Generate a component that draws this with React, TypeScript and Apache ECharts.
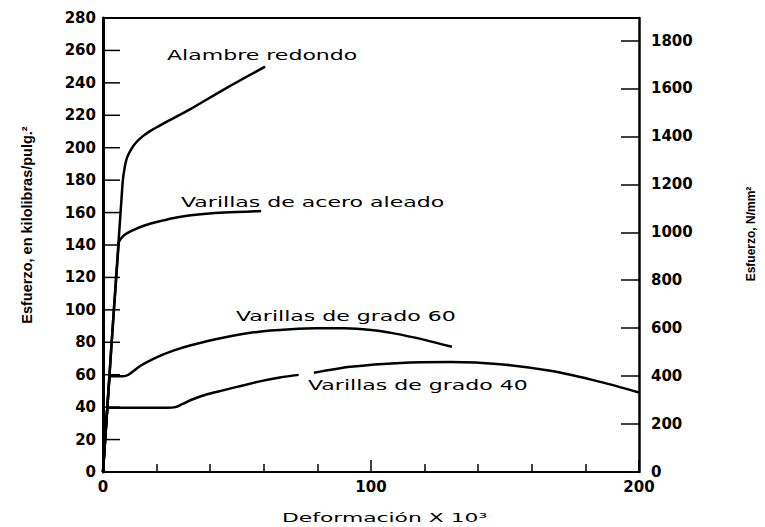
import React, { useEffect, useRef } from "react";
import * as echarts from "echarts";

// Deformation (x 10^3) vs stress (kips/in^2) for four kinds of steel reinforcement.
const wireRound: [number, number][] = [
  [0, 0], [7.3, 178], [8.1, 188], [9, 194], [10.5, 199], [12.5, 203.5],
  [15, 207.3], [18, 210.7], [21, 213.5], [26, 218], [32.8, 224], [45.2, 236], [60.5, 250],
];

const alloyBars: [number, number][] = [
  [0, 0], [5.85, 141], [6.7, 144], [8.5, 146.8], [11.7, 149.5], [15.5, 152],
  [20.4, 154.3], [26, 156.5], [32.8, 158.3], [45.2, 160], [59, 161],
];

const grade60Bars: [number, number][] = [
  [0, 0], [2.4, 58], [2.8, 59], [4, 59], [7.5, 59], [9.5, 60], [14, 65.5],
  [20.4, 71], [26.5, 75], [32.8, 78.2], [45.2, 83], [57.6, 86.4], [70, 88],
  [80, 88.6], [90, 88.6], [100, 87.6], [108.5, 85.5], [120, 81.5], [130.2, 77.2],
];

// the drawn grade-40 curve is broken where its label sits
const grade40Bars: (number | string)[][] = [
  [0, 0], [1.6, 38.5], [2, 39.6], [4, 39.6], [15, 39.6], [24, 39.6], [27, 40],
  [29.5, 41.8], [32.8, 44.4], [38, 47.5], [45.2, 50.5], [57.6, 55.6], [66, 58.3],
  [73, 59.9], [76, "-"], [78.7, 61.2], [92.4, 64.9], [111, 67.3], [129.6, 67.8],
  [148.2, 66.5], [166.9, 62.4], [185.5, 55.6], [200, 49],
];

const curveNames = [
  "Alambre redondo",
  "Varillas de acero aleado",
  "Varillas de grado 60",
  "Varillas de grado 40",
];

const strainRange = [0, 200];
const ksiRange = [0, 280];
const mpaRange = [0, 1894];

// inward tick marks of the kips/in^2 scale
const ksiTicks = [20, 40, 60, 80, 100, 120, 140, 160, 180, 200, 220, 240, 260];

const axisTitleLeft = "Esfuerzo, en kilolibras/pulg.\u00B2";
const axisTitleRight = "Esfuerzo, N/mm\u00B2";
const axisTitleBottom = "Deformación X 10\u00B3";

// where the curve names are written (pixels)
const namePlacement = [
  { x: 167, y: 55 },
  { x: 181, y: 202 },
  { x: 236, y: 316.5 },
  { x: 308, y: 385 },
];

const tickFont = {
  fontFamily: '"DejaVu Sans", sans-serif',
  fontWeight: "bold" as const,
  fontSize: 15,
  color: "#000",
};

const plainNumber = (v: number) => String(Math.round(v));
// the right scale only labels whole hundreds
const mpaLabel = (v: number) => (v % 200 === 0 ? String(v) : "");

export default function App() {
  const ref = useRef<HTMLDivElement>(null);

  useEffect(() => {
    if (!ref.current) return;
    const chart = echarts.init(ref.current, undefined, { renderer: "svg" });

    const lineSeries = (name: string, data: any[]) => ({
      name,
      type: "line",
      data,
      xAxisIndex: 0,
      yAxisIndex: 0,
      showSymbol: false,
      symbol: "none",
      smooth: 0.3,
      clip: false,
      silent: true,
      lineStyle: { color: "#000", width: 2.5 },
    });

    chart.setOption({
      animation: false,
      backgroundColor: "#fff",
      grid: { left: 103, right: 126, top: 18, bottom: 55 },
      xAxis: [
        {
          type: "value",
          position: "bottom",
          min: strainRange[0],
          max: strainRange[1],
          interval: 100,
          axisLine: { show: true, onZero: false, lineStyle: { color: "#000", width: 2 } },
          axisTick: { show: true, inside: false, length: -12, lineStyle: { color: "#000", width: 1.5 } },
          minorTick: { show: true, splitNumber: 5, length: -8, lineStyle: { color: "#000", width: 1.5 } },
          axisLabel: { ...tickFont, margin: 7, formatter: plainNumber },
          splitLine: { show: false },
        },
        {
          type: "value",
          position: "top",
          min: strainRange[0],
          max: strainRange[1],
          axisLine: { show: true, onZero: false, lineStyle: { color: "#000", width: 2 } },
          axisTick: { show: false },
          axisLabel: { show: false },
          splitLine: { show: false },
        },
      ],
      yAxis: [
        {
          type: "value",
          position: "left",
          min: ksiRange[0],
          max: ksiRange[1],
          interval: 20,
          axisLine: { show: true, onZero: false, lineStyle: { color: "#000", width: 3 } },
          axisTick: { show: false },
          axisLabel: { ...tickFont, margin: 7, formatter: plainNumber },
          splitLine: { show: false },
        },
        {
          type: "value",
          position: "right",
          min: mpaRange[0],
          max: mpaRange[1],
          interval: 200,
          axisLine: { show: true, onZero: false, lineStyle: { color: "#000", width: 2.5 } },
          axisTick: { show: true, inside: true, length: 18, lineStyle: { color: "#000", width: 1.5 } },
          axisLabel: { ...tickFont, margin: 12, formatter: mpaLabel },
          splitLine: { show: false },
        },
      ],
      series: [
        lineSeries(curveNames[0], wireRound),
        lineSeries(curveNames[1], alloyBars),
        lineSeries(curveNames[2], grade60Bars),
        lineSeries(curveNames[3], grade40Bars),
      ],
    });

    // left-scale ticks, positioned through the ksi axis
    const tickMarks: any[] = [];
    ksiTicks.forEach((v) => {
      const p = chart.convertToPixel({ seriesIndex: 0 }, [strainRange[0], v]) as number[];
      if (!p || !isFinite(p[0]) || !isFinite(p[1])) return;
      tickMarks.push({
        type: "line",
        z: 100,
        silent: true,
        shape: { x1: p[0], y1: p[1], x2: p[0] + 17, y2: p[1] },
        style: { stroke: "#000", lineWidth: 1.5 },
      });
    });

    const nameTexts = curveNames.map((text, i) => ({
      type: "text",
      x: namePlacement[i].x,
      y: namePlacement[i].y,
      scaleX: 1.575,
      silent: true,
      style: {
        text,
        fill: "#000",
        font: '14px "DejaVu Sans", sans-serif',
        align: "left",
        verticalAlign: "middle",
      },
    }));

    chart.setOption({
      graphic: [
        ...tickMarks,
        ...nameTexts,
        {
          type: "text",
          x: 27,
          y: 225,
          rotation: Math.PI / 2,
          silent: true,
          style: {
            text: axisTitleLeft,
            fill: "#000",
            font: 'bold 14.5px "Liberation Sans", Arial, sans-serif',
            align: "center",
            verticalAlign: "middle",
          },
        },
        {
          type: "text",
          x: 751,
          y: 234,
          rotation: Math.PI / 2,
          silent: true,
          style: {
            text: axisTitleRight,
            fill: "#000",
            font: 'bold 12px "Liberation Sans", Arial, sans-serif',
            align: "center",
            verticalAlign: "middle",
          },
        },
        {
          type: "text",
          x: 282,
          y: 517,
          scaleX: 1.68,
          silent: true,
          style: {
            text: axisTitleBottom,
            fill: "#000",
            font: '13px "DejaVu Sans", sans-serif',
            align: "left",
            verticalAlign: "middle",
          },
        },
      ],
    });

    return () => chart.dispose();
  }, []);

  return (
    <div
      ref={ref}
      style={{ position: "absolute", left: 0, top: 0, width: 765, height: 527 }}
    />
  );
}
